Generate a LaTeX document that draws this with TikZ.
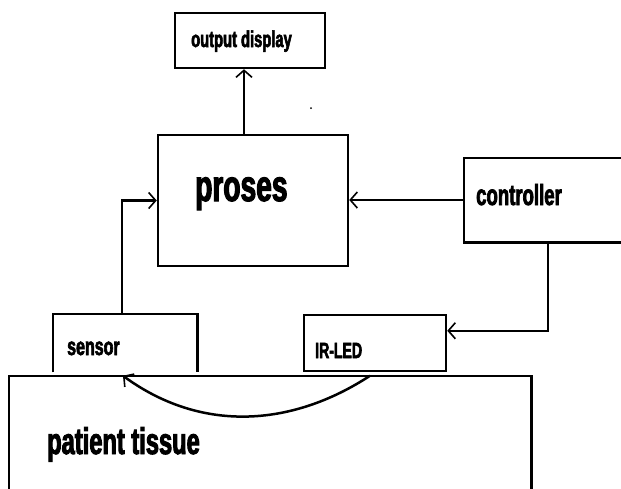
\documentclass[tikz,border=0pt]{standalone}
\usepackage{fontspec}
\setmainfont{Liberation Sans}[BoldFont={* Bold}]
\newfontfamily\narrowbold{Liberation Sans Bold}[FakeStretch=0.64, FakeBold=2.5]
\usetikzlibrary{arrows.meta}

\begin{document}
\begin{tikzpicture}[x=1pt,y=-1pt]
\tikzstyle{block}=[draw=black, line width=2.5pt, rectangle, inner sep=0pt]
\tikzstyle{label}=[anchor=base west, inner sep=0pt, font=\narrowbold]
\tikzstyle{conn}=[line width=2.5pt, -{Straight Barb[length=7pt, width=16pt, line width=1.6pt]}]

\useasboundingbox (0,0) rectangle (621,488);

% Blocks
\node at (250, 40.5) [block, minimum width=150pt, minimum height=55pt] (outdisp) {};
\node at (253, 200.5) [block, minimum width=190pt, minimum height=131pt] (proses) {};
\node at (615, 200) [block, draw=none, minimum width=300pt, minimum height=82pt] (ctrl) {};
\draw [line width=2.5pt] (ctrl.north east) -| (ctrl.south west) -- (ctrl.south east);
\node at (375, 343) [block, minimum width=142pt, minimum height=56pt] (irled) {};
\node at (125, 343) [block, draw=none, minimum width=142pt, minimum height=56pt] (sensor) {};
\draw [line width=2.5pt] (sensor.south west) |- (sensor.north east) -- (sensor.south east);
\node at (270, 480) [block, draw=none, minimum width=520pt, minimum height=206pt] (tissue) {};
\draw [line width=2.5pt] (tissue.south west) |- (tissue.north east) -- (tissue.south east);

% Text
\node at (191, 47) [label, font=\narrowbold\fontsize{23}{23}\selectfont] (outdisp_t) {output display};
\node at (195, 201) [label, font=\narrowbold\fontsize{44}{44}\selectfont] (proses_t) {proses};
\node at (476, 205) [label, font=\narrowbold\fontsize{29}{29}\selectfont] (ctrl_t) {controller};
\node at (67, 355) [label, font=\narrowbold\fontsize{25}{25}\selectfont] (sensor_t) {sensor};
\node at (315, 358) [label, font=\narrowbold\fontsize{22}{22}\selectfont] (irled_t) {IR-LED};
\node at (47, 454) [label, font=\narrowbold\fontsize{37}{37}\selectfont] (tissue_t) {patient tissue};

% Connectors
\draw [conn] ([xshift=-9pt]proses.north) -- ([xshift=-9pt]proses.north |- outdisp.south);
\draw [conn] (ctrl.west) -- (ctrl.west -| proses.east);
\draw [conn] ([xshift=84pt]ctrl.south west) |- ([yshift=-17pt]irled.north east);
\draw [conn] ([xshift=-3pt]sensor.north) |- (proses.west);
\draw [conn] ([xshift=-5pt]irled.south |- tissue.north) .. controls (290, 428) and (200, 432) .. ([xshift=-2pt]sensor.south |- tissue.north);

\fill (311, 108) circle (1pt);
\end{tikzpicture}
\end{document}
